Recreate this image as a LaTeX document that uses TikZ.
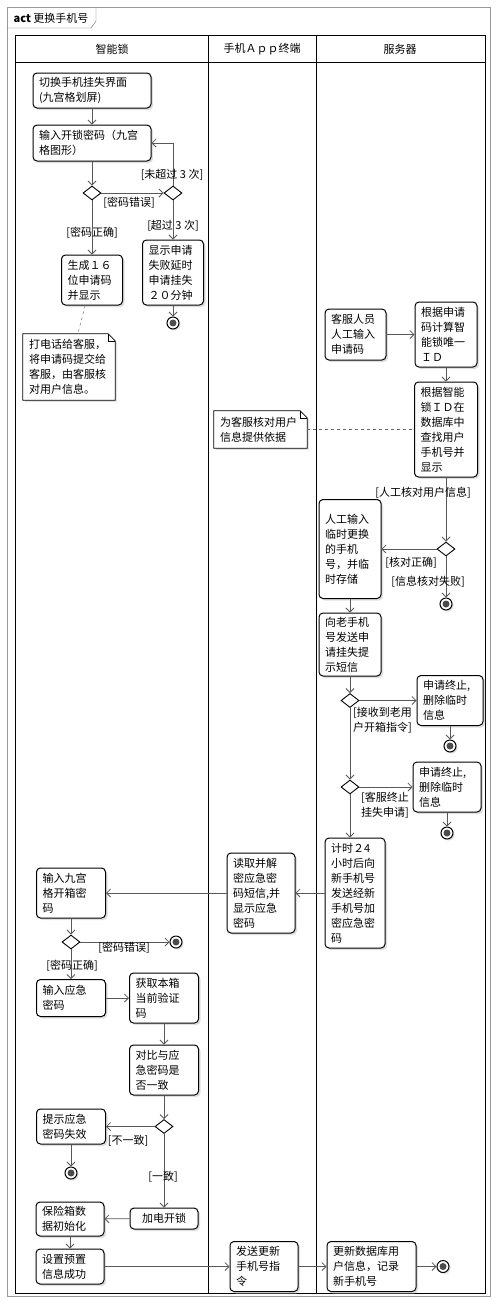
\documentclass[tikz,border=0pt]{standalone}
\usepackage{fontspec}
\setmainfont{Noto Sans CJK SC}
\usetikzlibrary{arrows.meta,shapes.geometric,shadows,calc,backgrounds}

\begin{document}
\begin{tikzpicture}[x=1pt,y=-1pt,
  font=\fontsize{11}{15}\selectfont,
  >={Straight Barb[length=4pt,width=8pt]},
  act/.style={draw,line width=1pt,rounded corners=4pt,fill=white,align=left,
    inner xsep=6pt,inner ysep=2pt,
    drop shadow={shadow xshift=2pt,shadow yshift=-2pt,fill=black!25}},
  choice/.style={diamond,draw,line width=0.9pt,fill=white,minimum width=18pt,
    minimum height=14pt,inner sep=0pt},
  final/.style={circle,draw,line width=1pt,fill=white,minimum size=12pt,inner sep=0pt,
    path picture={\fill[black!70] (path picture bounding box.center) circle (3.5pt);}},
  flow/.style={draw=black!65,line width=0.8pt,->},
  memo/.style={align=left,text width=#1,inner xsep=6pt,inner ysep=2pt},
  guard/.style={inner sep=1pt}]
\useasboundingbox (0,0) rectangle (500,1302);

% frame and lanes
\draw[black!40] (7,7) rectangle (490,1296);
\draw[black!60] (7,28) -- (91,28) -- (96,21) -- (96,7);
\node (title) at (51,18) {\textbf{act} 更换手机号};
\draw[line width=1pt] (15,35) rectangle (485,1293);
\draw[line width=1pt] (15,62) -- (485,62);
\foreach \x in {208,316} % edit here for the lane borders
\draw[line width=1pt] (\x,35) -- (\x,1293);
\node (lock) at (112,49) {智能锁};
\node (app) at (262,49) {手机Ａｐｐ终端};
\node (server) at (400,49) {服务器};

% smart lock
\node[act,text width=106pt,minimum height=35pt] (n1) at (92,90.5) {切换手机挂失界面\\(九宫格划屏)};
\node[act,text width=106pt,minimum height=36pt] (n2) at (92,143) {输入开锁密码（九宫\\格图形）};
\node[act,text width=49pt,minimum height=50pt] (n3) at (92,280) {生成１６\\位申请码\\并显示};
\node[act,text width=49pt,minimum height=65pt] (n4) at (173,272.5) {显示申请\\失败延时\\申请挂失\\２０分钟};
\node[memo=80pt,minimum height=66pt] (note1) at (69,367) {打电话给客服，\\将申请码提交给\\客服，由客服核\\对用户信息。};

% server
\node[act,text width=49pt,minimum height=51pt] (s1) at (355.5,334.5) {客服人员\\人工输入\\申请码};
\node[act,text width=50pt,minimum height=65pt] (s2) at (446,334.5) {根据申请\\码计算智\\能锁唯一\\ＩＤ};
\node[act,text width=51pt,minimum height=95pt] (s3) at (446,429.5) {根据智能\\锁ＩＤ在\\数据库中\\查找用户\\手机号并\\显示};
\node[memo=81pt,minimum height=37pt] (note2) at (260.5,429.5) {为客服核对用户\\信息提供依据};
\node[act,text width=50pt,minimum height=99pt] (s4) at (350,549) {人工输入\\临时更换\\的手机\\号，并临\\时存储};
\node[act,text width=50pt,minimum height=63pt] (s5) at (350,644.5) {向老手机\\号发送申\\请挂失提\\示短信};
\node[act,text width=54pt,minimum height=50pt] (s6) at (450,700.5) {申请终止,\\删除临时\\信息};
\node[act,text width=56pt,minimum height=50pt] (s7) at (447,787) {申请终止,\\删除临时\\信息};
\node[act,text width=48pt,minimum height=110pt] (s8) at (355,893) {计时２4\\小时后向\\新手机号\\发送经新\\手机号加\\密应急密\\码};
\node[act,text width=77pt,minimum height=50pt] (s9) at (371.5,1266.5) {更新数据库用\\户信息，记录\\新手机号};

% app
\node[act,text width=56pt,minimum height=80pt] (a1) at (261,893) {读取并解\\密应急密\\码短信,并\\显示应急\\密码};
\node[act,text width=56pt,minimum height=50pt] (a2) at (264,1266.5) {发送更新\\手机号指\\令};

% smart lock, lower part
\node[act,text width=57pt,minimum height=50pt] (l1) at (71,893) {输入九宫\\格开箱密\\码};
\node[act,text width=57pt,minimum height=37pt] (l2) at (71,998) {输入应急\\密码};
\node[act,text width=57pt,minimum height=50pt] (l3) at (164,998) {获取本箱\\当前验证\\码};
\node[act,text width=57pt,minimum height=50pt] (l4) at (164,1070) {对比与应\\急密码是\\否一致};
\node[act,text width=57pt,minimum height=35pt] (l5) at (71,1126.5) {提示应急\\密码失效};
\node[act,align=center,minimum width=68pt,minimum height=21pt] (l6) at (164,1218.5) {加电开锁};
\node[act,text width=56pt,minimum height=34pt] (l7) at (70,1219) {保险箱数\\据初始化};
\node[act,text width=56pt,minimum height=35pt] (l8) at (70,1266.5) {设置预置\\信息成功};

\foreach \n/\x/\y in {d1/92/193, d2/173/193, d3/446/549, d4/350/700.5, d5/350/787, d6/71/942, d7/164/1126.5} % edit here for the decisions
\node[choice] (\n) at (\x,\y) {};
\foreach \n/\x/\y in {e1/173/323, e2/446/604, e3/450/746, e4/447/833, e5/176/942, e6/71/1173, e7/443/1266.5} % edit here for the final nodes
\node[final,drop shadow={shadow xshift=1.5pt,shadow yshift=-1.5pt,fill=black!25}] (\n) at (\x,\y) {};

% notes
\begin{scope}[on background layer]
\foreach \m in {note1,note2}{
\draw[line width=0.8pt,fill=white,drop shadow={shadow xshift=2pt,shadow yshift=-2pt,fill=black!20}]
  (\m.north west) -- ($(\m.north east)+(-7,0)$) -- ($(\m.north east)+(0,7)$)
  -- (\m.south east) -- (\m.south west) -- cycle;
\draw[line width=0.6pt] ($(\m.north east)+(-7,0)$) -- ($(\m.north east)+(-7,7)$) -- ($(\m.north east)+(0,7)$);
}
\end{scope}

% flows
\draw[flow] (n1) -- (n2);
\draw[flow] (n2) -- (d1);
\draw[flow] (d1) -- (d2);
\draw[flow] (d2.north) |- (n2.east);
\draw[flow] (d2) -- (n4);
\draw[flow] (n4) -- (e1);
\draw[flow] (d1) -- (n3);
\draw[dashed,black!60] (n3.255) -- (note1.75);
\draw[flow] (s1.east) -- (s1.east -| s2.west);
\draw[flow] (s2) -- (s3);
\draw[dashed,black!60] (note2) -- (s3);
\draw[flow] (s3) -- (d3);
\draw[flow] (d3) -- (s4);
\draw[flow] (d3) -- (e2);
\draw[flow] (s4) -- (s5);
\draw[flow] (s5) -- (d4);
\draw[flow] (d4) -- (s6);
\draw[flow] (s6) -- (e3);
\draw[flow] (d4) -- (d5);
\draw[flow] (d5) -- (s7);
\draw[flow] (s7) -- (e4);
\draw[flow] (d5.south) -- (d5.south |- s8.north);
\draw[flow] (s8) -- (a1);
\draw[flow] (a1) -- (l1);
\draw[flow] (l1) -- (d6);
\draw[flow] (d6) -- (e5);
\draw[flow] (d6) -- (l2);
\draw[flow] (l2) -- (l3);
\draw[flow] (l3) -- (l4);
\draw[flow] (l4) -- (d7);
\draw[flow] (d7) -- (l5);
\draw[flow] (l5) -- (e6);
\draw[flow] (d7) -- (l6);
\draw[flow] (l6) -- (l7);
\draw[flow] (l7) -- (l8);
\draw[flow] (l8) -- (a2);
\draw[flow] (a2) -- (s9);
\draw[flow] (s9) -- (e7);

% guards
\node[guard] (g1) at (129,203) {[密码错误]};
\node[guard] (g2) at (172,175) {[未超过 3 次]};
\node[guard] (g3) at (173,226) {[超过 3 次]};
\node[guard] (g4) at (92,233) {[密码正确]};
\node[guard] (g5) at (423,493) {[人工核对用户信息]};
\node[guard] (g6) at (411,563) {[核对正确]};
\node[guard] (g7) at (428,582) {[信息核对失败]};
\node[guard,anchor=west,align=left] (g8) at (352,720) {[接收到老用\\户开箱指令]};
\node[guard,anchor=west,align=left] (g9) at (360,805) {[客服终止\\挂失申请]};
\node[guard] (g10) at (124,948) {[密码错误]};
\node[guard] (g11) at (72,966) {[密码正确]};
\node[guard] (g12) at (128,1141) {[不一致]};
\node[guard] (g13) at (163,1177) {[一致]};
\end{tikzpicture}
\end{document}
